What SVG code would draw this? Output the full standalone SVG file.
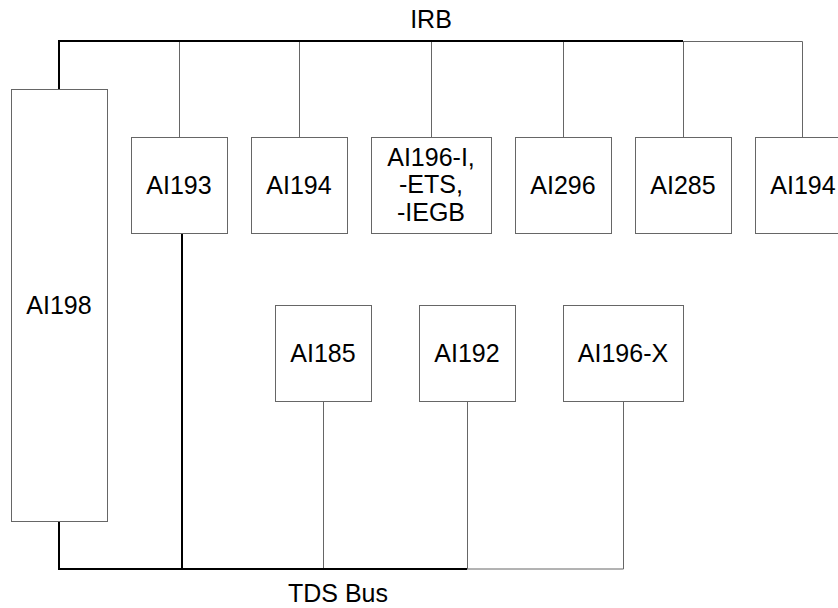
<svg xmlns="http://www.w3.org/2000/svg" width="838" height="608" viewBox="0 0 838 608">
<style>
.box{fill:#fff;stroke:#666;stroke-width:1}
.thin{fill:none;stroke:#666;stroke-width:1}
.thick{fill:none;stroke:#000;stroke-width:2}
text{font-family:"Liberation Sans",Arial,sans-serif;font-size:25px;fill:#000;text-anchor:middle}
</style>
<rect width="838" height="608" fill="#fff"/>
<g id="connectors">
<path class="thin" d="M682,41.5H802.5V137M179.5,41V137M299.5,41V137M431.5,41V137M563.5,41V137M683.5,41V137"/>
<path class="thick" d="M59,89V41H683"/>
<path class="thin" d="M466,569H623.5V401M323.5,401V569M467.5,401V569"/>
<path class="thick" d="M59,521V569H467M182,233V569"/>
</g>
<g id="AI198"><rect class="box" x="11.5" y="89.5" width="96" height="432"/><text x="59" y="314">AI198</text></g>
<g id="AI193"><rect class="box" x="131.5" y="137.5" width="96" height="96"/><text x="179" y="194">AI193</text></g>
<g id="AI194a"><rect class="box" x="251.5" y="137.5" width="96" height="96"/><text x="299" y="194">AI194</text></g>
<g id="AI196-I"><rect class="box" x="371.5" y="137.5" width="120" height="96"/><text x="431" y="165.5">AI196-I,</text><text x="431" y="193">-ETS,</text><text x="431" y="220.5">-IEGB</text></g>
<g id="AI296"><rect class="box" x="515.5" y="137.5" width="96" height="96"/><text x="563" y="194">AI296</text></g>
<g id="AI285"><rect class="box" x="635.5" y="137.5" width="96" height="96"/><text x="683" y="194">AI285</text></g>
<g id="AI194b"><rect class="box" x="755.5" y="137.5" width="96" height="96"/><text x="803" y="194">AI194</text></g>
<g id="AI185"><rect class="box" x="275.5" y="305.5" width="96" height="96"/><text x="323" y="362">AI185</text></g>
<g id="AI192"><rect class="box" x="419.5" y="305.5" width="96" height="96"/><text x="467" y="362">AI192</text></g>
<g id="AI196-X"><rect class="box" x="563.5" y="305.5" width="120" height="96"/><text x="623" y="362">AI196-X</text></g>
<text x="431" y="28">IRB</text>
<text x="338" y="602">TDS Bus</text>
</svg>
